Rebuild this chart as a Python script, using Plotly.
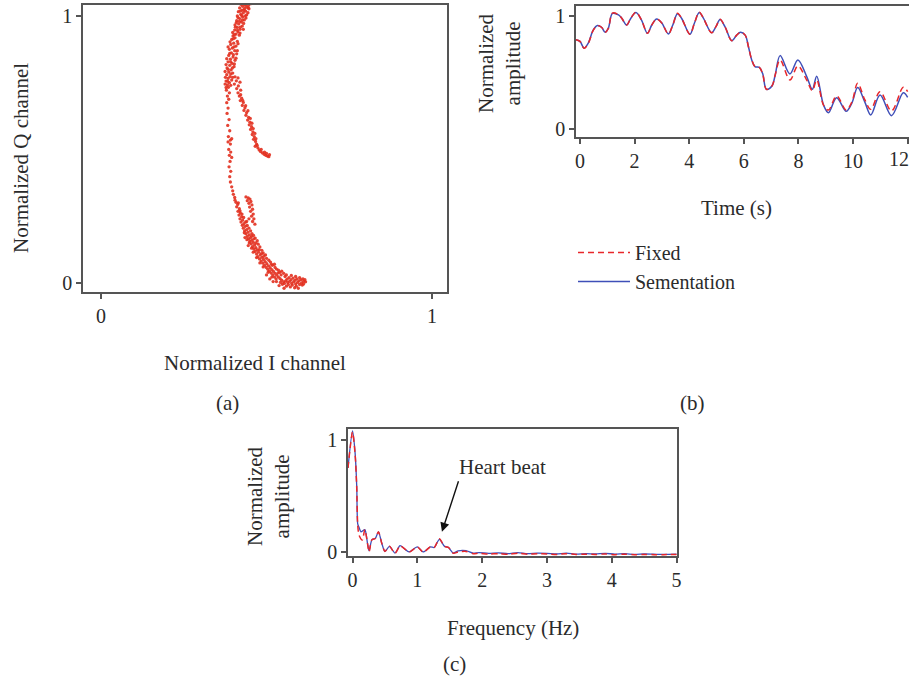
import plotly.graph_objects as go

W, H = 909, 679

# ---------------- Panel (a): I/Q scatter ----------------
iq_points = [
    (0.423,1.043),(0.431,1.046),(0.438,1.044),(0.446,1.040),(0.452,1.046),(0.428,1.036),(0.441,1.033),
    (0.434,1.028),(0.419,1.030),(0.447,1.027),(0.426,1.022),(0.437,1.018),(0.415,1.016),(0.430,1.012),
    (0.422,1.006),(0.440,1.004),(0.412,1.000),(0.428,0.996),(0.419,0.990),(0.433,0.985),(0.410,0.982),
    (0.424,0.977),(0.416,0.970),(0.405,0.966),(0.427,0.962),(0.412,0.957),(0.420,0.950),(0.404,0.947),
    (0.414,0.940),(0.408,0.932),(0.418,0.928),(0.399,0.925),
    (0.436,1.040),(0.445,1.030),(0.432,1.022),(0.421,1.018),(0.444,1.012),(0.436,1.000),(0.425,1.002),
    (0.414,0.994),(0.438,0.992),(0.427,0.984),(0.418,0.980),(0.431,0.972),(0.409,0.975),(0.421,0.958),
    (0.406,0.958),(0.430,0.950),(0.412,0.946),(0.398,0.938),(0.420,0.936),(0.403,0.930),
    (0.405,0.918),(0.395,0.912),(0.412,0.905),(0.401,0.898),(0.392,0.893),(0.408,0.887),(0.397,0.880),
    (0.388,0.875),(0.404,0.870),(0.394,0.862),(0.410,0.858),(0.386,0.852),(0.399,0.846),(0.391,0.838),
    (0.405,0.834),(0.384,0.828),(0.396,0.822),(0.389,0.815),(0.402,0.810),(0.381,0.805),(0.393,0.798),
    (0.386,0.790),(0.398,0.786),(0.380,0.780),(0.390,0.773),(0.384,0.766),(0.395,0.760),(0.378,0.756),
    (0.388,0.750),(0.382,0.742),
    (0.400,0.915),(0.414,0.896),(0.390,0.903),(0.402,0.884),(0.384,0.884),(0.412,0.870),(0.389,0.860),
    (0.400,0.855),(0.380,0.840),(0.408,0.842),(0.392,0.828),(0.378,0.818),(0.403,0.820),(0.384,0.800),
    (0.397,0.805),(0.375,0.792),(0.392,0.783),(0.376,0.770),(0.398,0.770),(0.383,0.755),(0.375,0.745),
    (0.392,0.740),(0.378,0.732),
    (0.405,0.772),(0.414,0.768),(0.409,0.757),(0.420,0.752),(0.403,0.745),(0.415,0.738),(0.410,0.728),
    (0.422,0.722),
    (0.414,0.712),(0.418,0.700),(0.425,0.692),(0.421,0.683),(0.430,0.676),(0.427,0.665),(0.435,0.656),
    (0.432,0.646),(0.440,0.638),(0.438,0.628),(0.446,0.620),(0.443,0.610),(0.450,0.602),(0.448,0.592),
    (0.455,0.585),(0.452,0.575),(0.459,0.566),(0.457,0.556),(0.463,0.548),(0.461,0.538),(0.467,0.530),
    (0.470,0.520),(0.466,0.512),(0.474,0.506),(0.478,0.498),(0.482,0.492),(0.488,0.487),(0.493,0.482),
    (0.498,0.478),(0.503,0.475),(0.507,0.473),(0.500,0.485),
    (0.422,0.705),(0.428,0.684),(0.437,0.664),(0.444,0.645),(0.451,0.616),(0.456,0.598),(0.460,0.578),
    (0.465,0.560),(0.468,0.540),(0.472,0.515),(0.484,0.500),(0.494,0.490),(0.509,0.480),
    (0.385,0.733),(0.379,0.722),(0.388,0.712),(0.382,0.700),(0.386,0.688),(0.380,0.675),(0.384,0.655),
    (0.381,0.635),(0.387,0.612),(0.383,0.590),(0.389,0.570),(0.385,0.548),(0.391,0.535),(0.384,0.528),
    (0.395,0.540),(0.391,0.520),(0.386,0.500),(0.392,0.490),(0.388,0.478),(0.395,0.470),(0.390,0.455),
    (0.387,0.435),(0.392,0.418),(0.389,0.398),(0.391,0.378),(0.395,0.360),(0.398,0.345),(0.400,0.332),
    (0.404,0.320),
    (0.438,0.322),(0.445,0.318),(0.450,0.314),(0.442,0.308),(0.453,0.305),(0.447,0.298),(0.456,0.292),
    (0.449,0.284),(0.458,0.276),(0.452,0.268),(0.460,0.258),(0.455,0.250),(0.462,0.240),(0.458,0.230),
    (0.465,0.220),
    (0.408,0.302),(0.413,0.294),(0.410,0.285),(0.418,0.278),(0.414,0.268),(0.421,0.262),(0.417,0.254),
    (0.425,0.248),(0.420,0.240),(0.428,0.235),(0.423,0.228),(0.432,0.222),(0.427,0.216),(0.436,0.212),
    (0.430,0.205),(0.440,0.200),(0.434,0.195),(0.444,0.190),(0.438,0.184),(0.448,0.180),(0.442,0.174),
    (0.452,0.170),(0.446,0.165),(0.456,0.160),(0.450,0.156),(0.460,0.152),(0.454,0.146),(0.464,0.142),
    (0.458,0.136),(0.468,0.132),(0.462,0.127),(0.472,0.124),(0.448,0.150),(0.441,0.162),(0.455,0.175),
    (0.462,0.165),(0.468,0.150),(0.435,0.170),
    (0.405,0.310),(0.415,0.300),(0.420,0.270),(0.426,0.258),(0.431,0.245),(0.437,0.228),(0.442,0.215),
    (0.447,0.205),(0.452,0.195),(0.456,0.185),(0.461,0.178),(0.466,0.168),(0.472,0.158),(0.475,0.145),
    (0.480,0.135),(0.478,0.125),(0.486,0.122),(0.490,0.112),(0.497,0.105),(0.500,0.092),(0.507,0.085),
    (0.512,0.078),(0.518,0.066),(0.524,0.070),(0.530,0.052),(0.536,0.048),(0.540,0.040),(0.546,0.044),
    (0.552,0.036),(0.440,0.230),(0.447,0.240),(0.433,0.188),(0.445,0.140),(0.455,0.130),(0.460,0.115),
    (0.470,0.095),(0.480,0.075),(0.490,0.060),(0.505,0.040),(0.516,0.022),
    (0.466,0.118),(0.476,0.115),(0.470,0.108),(0.481,0.105),(0.474,0.098),(0.486,0.096),(0.479,0.090),
    (0.491,0.088),(0.484,0.082),(0.496,0.080),(0.489,0.074),(0.501,0.072),(0.494,0.066),(0.506,0.064),
    (0.499,0.058),(0.511,0.057),(0.504,0.051),(0.516,0.050),(0.509,0.044),(0.521,0.043),(0.526,0.058),
    (0.515,0.070),(0.485,0.110),(0.492,0.100),
    (0.514,0.037),(0.526,0.036),(0.519,0.030),(0.531,0.029),(0.524,0.022),(0.536,0.022),(0.529,0.015),
    (0.541,0.016),(0.546,0.010),(0.552,0.004),(0.558,0.008),(0.564,0.002),(0.570,0.006),(0.576,-0.002),
    (0.582,0.004),(0.588,-0.004),(0.594,0.002),(0.600,-0.006),(0.606,0.000),(0.612,0.006),(0.616,0.012),
    (0.604,0.012),(0.592,0.015),(0.580,0.018),(0.568,0.020),(0.556,0.024),(0.544,0.030),(0.535,0.038),
    (0.548,-0.005),(0.560,-0.012),(0.572,-0.015),(0.585,-0.018),(0.596,-0.020),(0.560,0.030),
    (0.500,0.030),(0.510,0.015),(0.520,0.005),(0.538,-0.010),(0.553,-0.020),
    (0.562,0.014),(0.574,0.012),(0.586,0.010),(0.598,0.008),(0.610,0.015),(0.618,0.004),(0.608,-0.008),
    (0.590,-0.012),(0.578,-0.008),(0.566,-0.006),(0.554,-0.002),(0.542,0.002),(0.530,0.005),(0.600,0.020),
    (0.588,0.024),(0.575,0.028),(0.612,-0.004),
]
i_channel = [p[0] for p in iq_points]
q_channel = [p[1] for p in iq_points]

# ---------------- Panel (b): amplitude vs time ----------------
time_s = [-0.15, 0.0, 0.15, 0.30, 0.49, 0.64, 0.79, 0.92, 1.04, 1.19, 1.41, 1.53, 1.71, 1.86, 2.05,
          2.25, 2.47, 2.63, 2.81, 2.99, 3.24, 3.40, 3.57, 3.72, 4.03, 4.19, 4.37, 4.52, 4.82, 4.98,
          5.13, 5.31, 5.56, 5.74, 5.88, 6.05, 6.17, 6.29, 6.41, 6.57, 6.69, 6.83, 7.03, 7.15, 7.33,
          7.69, 7.98, 8.30, 8.51, 8.67, 8.92, 9.10, 9.40, 9.75, 9.96, 10.17, 10.43, 10.65, 10.99,
          11.41, 11.84, 12.0]
amp_fixed = [0.79, 0.775, 0.715, 0.755, 0.875, 0.912, 0.90, 0.855, 0.89, 1.025, 1.01, 0.98, 0.92, 0.98,
             1.033, 0.965, 0.847, 0.92, 0.973, 0.94, 0.841, 0.92, 1.023, 0.98, 0.838, 0.935, 1.033,
             0.98, 0.852, 0.905, 0.97, 0.905, 0.781, 0.83, 0.855, 0.83, 0.728, 0.611, 0.551, 0.545,
             0.49, 0.351, 0.38, 0.478, 0.611, 0.434, 0.558, 0.434, 0.339, 0.434, 0.21, 0.168, 0.292,
             0.168, 0.24, 0.404, 0.26, 0.174, 0.33, 0.16, 0.369, 0.33]
amp_seg = [0.79, 0.775, 0.715, 0.758, 0.877, 0.915, 0.90, 0.855, 0.892, 1.022, 1.01, 0.98, 0.92, 0.978,
           1.03, 0.965, 0.847, 0.92, 0.972, 0.94, 0.841, 0.92, 1.02, 0.98, 0.838, 0.935, 1.03,
           0.98, 0.852, 0.905, 0.968, 0.905, 0.781, 0.83, 0.855, 0.83, 0.728, 0.611, 0.551, 0.545,
           0.49, 0.351, 0.38, 0.478, 0.649, 0.487, 0.611, 0.466, 0.351, 0.466, 0.212, 0.144, 0.277,
           0.156, 0.23, 0.366, 0.24, 0.124, 0.30, 0.118, 0.32, 0.28]
time_ticks = [0, 2, 4, 6, 8, 10, 12]
# the "12" label sits at the page edge; it is drawn as an axis-anchored annotation nudged inward
time_tick_text = ["0", "2", "4", "6", "8", "10", ""]
edge_tick_label = "12"

# ---------------- Panel (c): spectrum ----------------
freq_seg = [-0.07, 0.0, 0.04, 0.065, 0.08, 0.10, 0.13, 0.19, 0.23, 0.255, 0.30, 0.35, 0.40, 0.45, 0.50,
            0.57, 0.656, 0.733, 0.80, 0.872, 1.0, 1.09, 1.2, 1.26, 1.34, 1.42, 1.48, 1.556, 1.63, 1.75,
            1.86, 1.95, 2.1, 2.25, 2.4, 2.55, 2.7, 2.85, 3.0, 3.15, 3.3, 3.45, 3.6, 3.75, 3.9, 4.05,
            4.2, 4.35, 4.5, 4.65, 4.8, 5.0]
spec_seg = [0.75, 1.08, 0.88, 0.58, 0.25, 0.22, 0.18, 0.20, 0.08, 0.01, 0.11, 0.12, 0.18, 0.08, 0.005,
            0.05, -0.01, 0.057, 0.03, 0.0, 0.045, 0.0, 0.045, 0.04, 0.113, 0.05, 0.04, -0.01, 0.01, 0.012,
            -0.01, -0.005, -0.012, -0.008, -0.015, -0.005, -0.015, -0.01, -0.012, -0.018, -0.01, -0.02,
            -0.015, -0.018, -0.012, -0.02, -0.015, -0.022, -0.018, -0.02, -0.022, -0.02]
freq_fixed = [-0.07, 0.0, 0.04, 0.065, 0.08, 0.10, 0.15, 0.19, 0.23, 0.255, 0.30, 0.35, 0.40, 0.45, 0.50,
              0.57, 0.656, 0.733, 0.80, 0.872, 1.0, 1.09, 1.2, 1.26, 1.34, 1.42, 1.48, 1.556, 1.63, 1.75,
              1.86, 1.95, 2.1, 2.25, 2.4, 2.55, 2.7, 2.85, 3.0, 3.15, 3.3, 3.45, 3.6, 3.75, 3.9, 4.05,
              4.2, 4.35, 4.5, 4.65, 4.8, 5.0]
spec_fixed = [0.75, 1.07, 0.87, 0.57, 0.24, 0.15, 0.107, 0.20, 0.08, 0.0, 0.11, 0.12, 0.18, 0.08, 0.005,
              0.05, -0.012, 0.055, 0.03, -0.002, 0.045, -0.002, 0.045, 0.04, 0.118, 0.05, 0.04, -0.012,
              0.0, 0.005, -0.015, -0.012, -0.018, -0.015, -0.02, -0.012, -0.02, -0.015, -0.018, -0.022,
              -0.015, -0.022, -0.02, -0.022, -0.018, -0.024, -0.02, -0.024, -0.022, -0.024, -0.024, -0.022]

RED = "#e8262a"
BLUE = "#3f4fb8"
PT_RED = "#e2301f"
FONT = "Liberation Serif"
TXT = "#2b2b2b"
AXC = "#555555"
TICK_SIZE = 20
TITLE_SIZE = 21

fig = go.Figure()
fig.add_trace(go.Scatter(x=i_channel, y=q_channel, mode="markers", xaxis="x", yaxis="y",
                         marker=dict(color=PT_RED, size=3.3, opacity=0.9), showlegend=False))
fig.add_trace(go.Scatter(x=time_s, y=amp_seg, mode="lines", xaxis="x2", yaxis="y2", name="Sementation",
                         line=dict(color=BLUE, width=1.5, shape="spline", smoothing=1.0),
                         legendrank=2))
fig.add_trace(go.Scatter(x=time_s, y=amp_fixed, mode="lines", xaxis="x2", yaxis="y2", name="Fixed",
                         line=dict(color=RED, width=1.5, dash="6px,4px", shape="spline", smoothing=1.0),
                         legendrank=1))
fig.add_trace(go.Scatter(x=freq_seg, y=spec_seg, mode="lines", xaxis="x3", yaxis="y3",
                         line=dict(color=BLUE, width=1.3, shape="spline", smoothing=0.7), showlegend=False))
fig.add_trace(go.Scatter(x=freq_fixed, y=spec_fixed, mode="lines", xaxis="x3", yaxis="y3",
                         line=dict(color=RED, width=1.5, dash="6px,4px", shape="spline", smoothing=0.7),
                         showlegend=False))


def axis(domain, rng, tickvals, anchor, ticktext=None):
    return dict(domain=domain, range=rng, tickvals=tickvals,
                ticktext=ticktext if ticktext else [str(v) for v in tickvals],
                showline=True, mirror=True, linecolor=AXC, linewidth=1.5,
                ticks="outside", ticklen=5, tickwidth=1.5, tickcolor=AXC,
                showgrid=False, zeroline=False, anchor=anchor, ticklabeloverflow="allow",
                automargin=False,
                tickfont=dict(family=FONT, size=TICK_SIZE, color=TXT))


def px_x(px):
    return px / W


def px_y(py):
    return 1 - py / H


fig.update_layout(
    width=W, height=H, margin=dict(l=0, r=0, t=0, b=0, autoexpand=False),
    paper_bgcolor="white", plot_bgcolor="white",
    font=dict(family=FONT, size=TITLE_SIZE, color=TXT),
    xaxis=axis([px_x(83), px_x(447)], [-0.054, 1.045], [0, 1], "y"),
    yaxis=axis([px_y(292), px_y(5)], [-0.034, 1.041], [0, 1], "x"),
    xaxis2=axis([px_x(576), 1.0], [-0.145, 12.05], time_ticks, "y2", time_tick_text),
    yaxis2=axis([px_y(137), px_y(6)], [-0.071, 1.088], [0, 1], "x2"),
    xaxis3=axis([px_x(348), px_x(677)], [-0.07, 5.007], [0, 1, 2, 3, 4, 5], "y3"),
    yaxis3=axis([px_y(556), px_y(429)], [-0.036, 1.098], [0, 1], "x3"),
    legend=dict(x=px_x(573), y=px_y(233), xanchor="left", yanchor="top",
                bgcolor="rgba(0,0,0,0)", font=dict(family=FONT, size=20, color=TXT),
                itemwidth=52, tracegroupgap=0),
)

ann = []


def text(x, y, s, angle=0):
    ann.append(dict(x=px_x(x), y=px_y(y), xref="paper", yref="paper", text=s, showarrow=False,
                    textangle=angle, xanchor="center", yanchor="middle",
                    font=dict(family=FONT, size=TITLE_SIZE, color=TXT)))


text(21, 158, "Normalized Q channel", -90)
text(255, 363, "Normalized I channel")
text(228, 403, "(a)")
text(499, 63, "Normalized<br>amplitude", -90)
text(736, 208, "Time (s)")
text(692, 403, "(b)")
text(268, 496, "Normalized<br>amplitude", -90)
text(513, 628, "Frequency (Hz)")
text(454, 664, "(c)")
text(502, 467, "Heart beat")
ann.append(dict(x=time_ticks[-1], y=px_y(159), xref="x2", yref="paper", text=edge_tick_label,
                showarrow=False, xanchor="right", yanchor="middle", xshift=3,
                font=dict(family=FONT, size=TICK_SIZE, color=TXT)))
ann.append(dict(x=1.38, y=0.18, xref="x3", yref="y3", text="", showarrow=True,
                ax=17, ay=-52, arrowhead=2, arrowsize=1.3, arrowwidth=1.4, arrowcolor="#111"))
fig.update_layout(annotations=ann)

fig.write_html("out.html")
